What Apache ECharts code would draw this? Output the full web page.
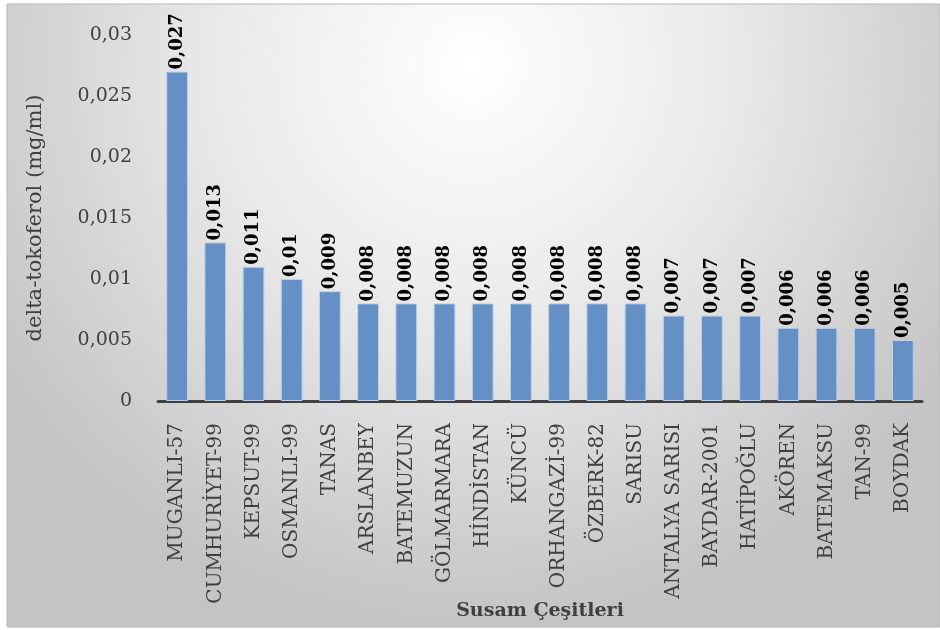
<!DOCTYPE html>
<html>
<head>
<meta charset="utf-8">
<script src="https://cdn.jsdelivr.net/npm/echarts@6/dist/echarts.min.js"></script>
<style>
  html, body { margin: 0; padding: 0; background: #fff; }
  #chart { width: 940px; height: 630px; }
</style>
</head>
<body>
<div id="chart"></div>
<script>
const categories = [
    'MUGANLI-57', 'CUMHURİYET-99', 'KEPSUT-99', 'OSMANLI-99', 'TANAS', 'ARSLANBEY',
    'BATEMUZUN', 'GÖLMARMARA', 'HİNDİSTAN', 'KÜNCÜ', 'ORHANGAZİ-99', 'ÖZBERK-82',
    'SARISU', 'ANTALYA SARISI', 'BAYDAR-2001', 'HATİPOĞLU', 'AKÖREN', 'BATEMAKSU',
    'TAN-99', 'BOYDAK'
];
const values = [
    0.027, 0.013, 0.011, 0.01, 0.009, 0.008,
    0.008, 0.008, 0.008, 0.008, 0.008, 0.008,
    0.008, 0.007, 0.007, 0.007, 0.006, 0.006,
    0.006, 0.005
];
const yTicks = [0, 0.005, 0.01, 0.015, 0.02, 0.025, 0.03];

const FONT = 'DejaVu Serif';
// virgül ondalık ayırıcı
const fmt = v => String(v).replace('.', ',');

const chart = echarts.init(document.getElementById('chart'), null, { renderer: 'canvas' });

chart.setOption({
    animation: false,
    graphic: [{
        type: 'rect',
        z: -10,
        silent: true,
        shape: { x: 7, y: 4, width: 933, height: 623 },
        style: {
            fill: new echarts.graphic.RadialGradient(0.5, 0.1, 0.9, [
                { offset: 0, color: '#ffffff' },
                { offset: 0.45, color: '#eaeaea' },
                { offset: 1, color: '#c4c4c4' }
            ]),
            stroke: '#b8b8b8',
            lineWidth: 1
        }
    }],
    grid: { left: 158, right: 18, top: 35, bottom: 229, containLabel: false, outerBoundsMode: 'none' },
    xAxis: {
        type: 'category',
        data: categories,
        name: 'Susam Çeşitleri',
        nameLocation: 'middle',
        nameGap: 201,
        nameMoveOverlap: false,
        nameTextStyle: { fontFamily: FONT, fontSize: 19, fontWeight: 'bold', color: '#404040' },
        axisLine: { lineStyle: { color: '#404040', width: 3 } },
        axisTick: { show: false },
        axisLabel: {
            interval: 0,
            rotate: 90,
            margin: 22,
            fontFamily: FONT,
            fontSize: 20,
            color: '#404040'
        }
    },
    yAxis: {
        type: 'value',
        min: 0,
        max: 0.03,
        interval: 0.005,
        name: 'delta-tokoferol (mg/ml)',
        nameLocation: 'middle',
        nameGap: 112,
        nameTextStyle: { fontFamily: FONT, fontSize: 21, color: '#404040' },
        axisLine: { show: false },
        axisTick: { show: false },
        splitLine: { show: false },
        axisLabel: {
            margin: 26,
            fontFamily: FONT,
            fontSize: 19,
            color: '#404040',
            formatter: v => yTicks.includes(+v.toFixed(3)) ? fmt(+v.toFixed(3)) : ''
        }
    },
    series: [{
        type: 'bar',
        data: values,
        barWidth: '57%',
        itemStyle: { color: '#6490c6', borderColor: '#bcd0ea', borderWidth: 1 },
        label: {
            show: true,
            position: 'top',
            rotate: 90,
            align: 'left',
            verticalAlign: 'middle',
            distance: 2,
            fontFamily: FONT,
            fontSize: 18,
            fontWeight: 'bold',
            color: '#000',
            formatter: p => fmt(p.value)
        }
    }]
});
</script>
</body>
</html>
